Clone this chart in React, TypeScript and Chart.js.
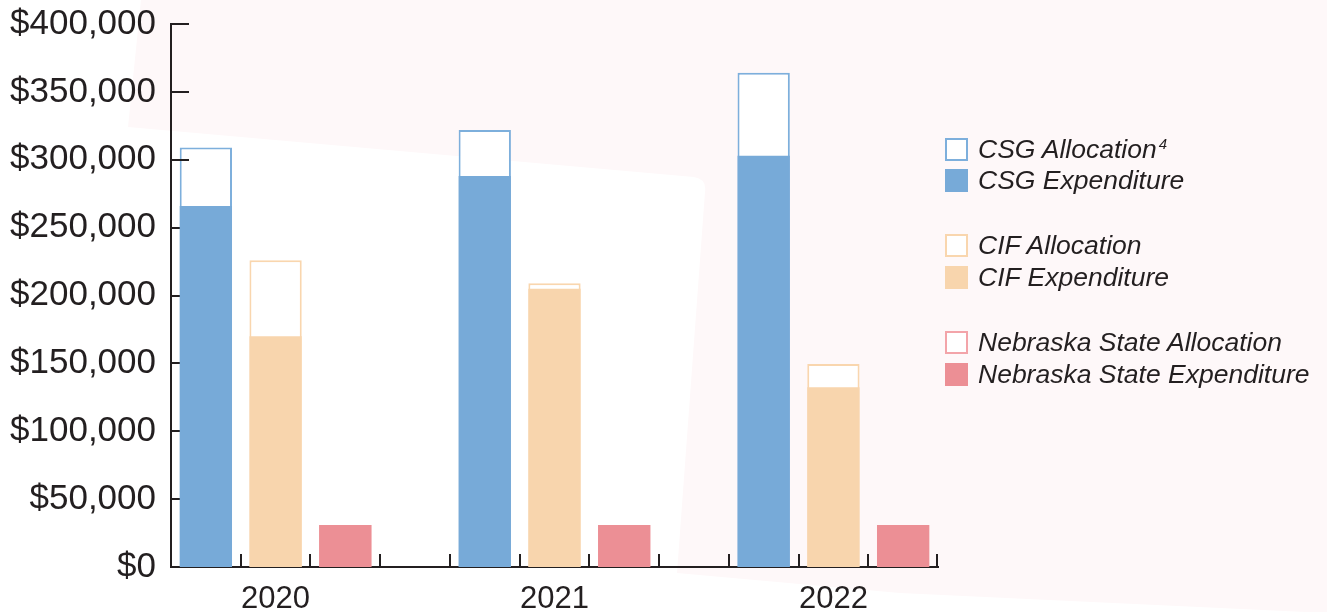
import React, { useEffect, useRef } from 'react';
import { Chart, registerables } from 'chart.js';

Chart.register(...registerables);

// ---- data ----
const years = ['2020', '2021', '2022'];
const csgAllocation = [309000, 322000, 364000];
const csgExpenditure = [266000, 288000, 303000];
const cifAllocation = [226000, 209000, 149500];
const cifExpenditure = [170000, 205000, 132500];
const nebraskaAllocation = [31000, 31000, 31000];
const nebraskaExpenditure = [31000, 31000, 31000];
const yTickValues = [0, 50000, 100000, 150000, 200000, 250000, 300000, 350000, 400000];

const programNames = ['CSG', 'CIF', 'Nebraska State'];
const allocationLabels = ['CSG Allocation', 'CIF Allocation', 'Nebraska State Allocation'];
const expenditureLabels = ['CSG Expenditure', 'CIF Expenditure', 'Nebraska State Expenditure'];
const allocationNotes = ['4', '', ''];

// ---- styles ----
const fillColors = ['#77AAD8', '#F8D5AD', '#EC8F95'];
const borderColors = ['#7DAFDC', '#F9D6AE', '#F3A4A9'];
const ink = '#231F20';
const pink = '#FEF8F9';

const slotsPerYear = programNames.length + 1;
const slotCount = years.length * slotsPerYear - 1;
const slotLabels = Array.from({ length: slotCount }, (_, i) =>
  i % slotsPerYear === 1 ? years[Math.floor(i / slotsPerYear)] : ''
);

function toSlots(values: number[], program: number) {
  const out: (number | null)[] = Array(slotCount).fill(null);
  values.forEach((v, y) => {
    out[y * slotsPerYear + program] = v;
  });
  return out;
}

const allocations = [csgAllocation, cifAllocation, nebraskaAllocation];
const expenditures = [csgExpenditure, cifExpenditure, nebraskaExpenditure];

const drawMarks = (chart: any) => {
  const { ctx, chartArea: a } = chart;
  const yScale = chart.scales.y;
  const xScale = chart.scales.x;
  ctx.save();
  ctx.strokeStyle = ink;
  ctx.lineWidth = 2;
  ctx.beginPath();
  yTickValues.forEach((v) => {
    const y = Math.round(yScale.getPixelForValue(v));
    ctx.moveTo(a.left, y);
    ctx.lineTo(a.left + 18, y);
  });
  const n = xScale.ticks.length;
  const w = (a.right - a.left) / n;
  for (let k = 1; k <= n; k++) {
    let x = Math.round(a.left + k * w);
    if (k === n) x = a.right - 1;
    ctx.moveTo(x, a.bottom);
    ctx.lineTo(x, a.bottom - 13);
  }
  ctx.stroke();
  ctx.restore();
};

const marksPlugin = {
  id: 'axisMarks',
  beforeDatasetsDraw(chart: any) {
    chart.$marksDone = false;
  },
  beforeDatasetDraw(chart: any, args: any) {
    const ds = chart.data.datasets[args.index];
    if (ds.kind === 'expenditure' && !chart.$marksDone) {
      chart.$marksDone = true;
      drawMarks(chart);
    }
  },
  afterDatasetsDraw(chart: any) {
    if (!chart.$marksDone) {
      chart.$marksDone = true;
      drawMarks(chart);
    }
  },
};

const backgroundPlugin = {
  id: 'bgShape',
  beforeDraw(chart: any) {
    const { ctx } = chart;
    ctx.save();
    ctx.fillStyle = pink;
    ctx.beginPath();
    ctx.moveTo(141, 0);
    ctx.lineTo(1327, 0);
    ctx.lineTo(1327, 613);
    ctx.lineTo(900, 593);
    ctx.lineTo(677, 573);
    ctx.lineTo(705, 192);
    ctx.quadraticCurveTo(707, 179, 694, 177);
    ctx.lineTo(128, 127);
    ctx.closePath();
    ctx.fill();
    ctx.restore();
  },
};

export default function App() {
  const ref = useRef<HTMLCanvasElement>(null);

  useEffect(() => {
    if (!ref.current) return;
    const datasets: any[] = [];
    programNames.forEach((_, p) => {
      datasets.push({
        kind: 'allocation',
        label: allocationLabels[p],
        data: toSlots(allocations[p], p),
        backgroundColor: '#FFFFFF',
        borderColor: borderColors[p],
        borderWidth: 2,
        borderSkipped: false,
        order: 2,
        grouped: false,
        categoryPercentage: 1,
        barPercentage: 0.75,
      });
      datasets.push({
        kind: 'expenditure',
        label: expenditureLabels[p],
        data: toSlots(expenditures[p], p),
        backgroundColor: fillColors[p],
        borderWidth: 0,
        order: 1,
        grouped: false,
        categoryPercentage: 1,
        barPercentage: 0.75,
      });
    });

    const chart = new Chart(ref.current, {
      type: 'bar',
      data: { labels: slotLabels, datasets },
      plugins: [backgroundPlugin, marksPlugin],
      options: {
        animation: false,
        responsive: false,
        maintainAspectRatio: false,
        layout: { padding: { top: 24, right: 389, left: 0, bottom: 0 } },
        plugins: { legend: { display: false }, tooltip: { enabled: false } },
        scales: {
          x: {
            grid: { display: false, drawTicks: false },
            border: { display: true, color: ink, width: 2 },
            ticks: {
              autoSkip: false,
              maxRotation: 0,
              color: ink,
              padding: 14,
              font: { family: '"Liberation Sans", Arial, sans-serif', size: 31 },
            },
            afterFit(scale: any) {
              scale.height = 45;
              scale.paddingLeft = 0;
              scale.paddingRight = 0;
            },
          },
          y: {
            min: 0,
            max: 400000,
            grid: { display: false, drawTicks: false },
            border: { display: true, color: ink, width: 2 },
            ticks: {
              stepSize: 50000,
              color: ink,
              padding: 15,
              font: { family: '"Liberation Sans", Arial, sans-serif', size: 35 },
              callback: (v: any) => '$' + Number(v).toLocaleString('en-US'),
            },
            afterFit(scale: any) {
              scale.width = 171;
              scale.paddingTop = 0;
              scale.paddingBottom = 0;
            },
          },
        },
      } as any,
    });
    return () => chart.destroy();
  }, []);

  const legendTops = [137, 168, 233, 265, 330, 362];
  const items: { label: string; note: string; color: string; border: string; filled: boolean }[] = [];
  programNames.forEach((_, p) => {
    items.push({ label: allocationLabels[p], note: allocationNotes[p], color: fillColors[p], border: borderColors[p], filled: false });
    items.push({ label: expenditureLabels[p], note: '', color: fillColors[p], border: fillColors[p], filled: true });
  });

  return (
    <div style={{ position: 'absolute', left: 0, top: 0, width: 1327, height: 612, background: '#FFFFFF' }}>
      <canvas ref={ref} width={1327} height={612} style={{ position: 'absolute', left: 0, top: 0 }} />
      {items.map((it, i) => (
        <div
          key={it.label}
          style={{
            position: 'absolute',
            left: 945,
            top: legendTops[i],
            height: 24,
            display: 'flex',
            alignItems: 'center',
            whiteSpace: 'nowrap',
          }}
        >
          <div
            style={{
              width: 23,
              height: 23,
              boxSizing: 'border-box',
              background: it.filled ? it.color : '#FFFFFF',
              border: it.filled ? 'none' : `2px solid ${it.border}`,
            }}
          />
          <span
            style={{
              marginLeft: 10,
              fontFamily: '"Liberation Sans", Arial, sans-serif',
              fontStyle: 'italic',
              fontSize: 26.5,
              color: ink,
              lineHeight: '24px',
            }}
          >
            {it.label}
            {it.note ? (
              <sup style={{ fontSize: 15, verticalAlign: 'top', lineHeight: '14px', marginLeft: 2 }}>{it.note}</sup>
            ) : null}
          </span>
        </div>
      ))}
    </div>
  );
}
